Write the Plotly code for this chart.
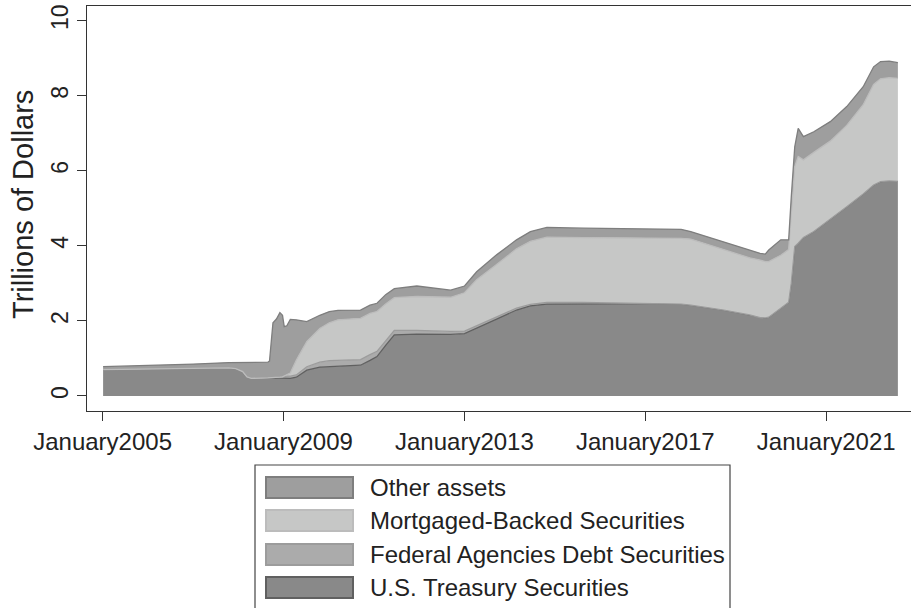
import plotly.graph_objects as go

# ---------------- data (trillions of dollars) ----------------
dates = [
    "2005-01-05", "2006-01-04", "2007-01-03", "2007-10-17", "2007-12-12",
    "2008-02-06", "2008-03-12", "2008-04-16", "2008-08-27", "2008-09-10",
    "2008-09-24", "2008-10-08", "2008-11-05", "2008-12-03", "2008-12-24",
    "2009-01-07", "2009-01-28", "2009-02-25", "2009-04-15", "2009-07-08",
    "2009-10-21", "2010-01-06", "2010-03-17", "2010-09-15", "2010-12-01",
    "2011-01-26", "2011-04-06", "2011-06-15", "2011-12-14", "2012-07-18",
    "2012-09-12", "2013-01-02", "2013-04-10", "2013-09-18", "2014-02-26",
    "2014-06-18", "2014-10-29", "2015-08-19", "2016-06-15", "2017-02-08",
    "2017-10-18", "2018-01-03", "2018-09-26", "2019-04-24", "2019-07-17",
    "2019-08-28", "2019-09-25", "2019-12-31", "2020-03-04", "2020-03-25",
    "2020-04-22", "2020-05-20", "2020-07-01", "2020-09-23", "2021-02-03",
    "2021-06-16", "2021-10-27", "2022-01-19", "2022-03-16", "2022-05-25",
    "2022-08-03",
]

treasury = [
    0.70, 0.72, 0.74, 0.75, 0.73,
    0.65, 0.51, 0.47, 0.48, 0.48,
    0.48, 0.48, 0.48, 0.48, 0.48,
    0.48, 0.48, 0.47, 0.50, 0.69,
    0.77, 0.78, 0.78, 0.82, 0.95,
    1.05, 1.35, 1.63, 1.65, 1.64,
    1.64, 1.66, 1.80, 2.05, 2.29,
    2.40, 2.45, 2.46, 2.46, 2.46,
    2.45, 2.42, 2.29, 2.16, 2.09,
    2.08, 2.10, 2.34, 2.50, 3.00,
    3.98, 4.07, 4.22, 4.38, 4.70,
    5.04, 5.38, 5.62, 5.71, 5.73,
    5.72,
]

agency = [
    0.00, 0.00, 0.00, 0.00, 0.00,
    0.00, 0.00, 0.00, 0.00, 0.00,
    0.01, 0.01, 0.02, 0.02, 0.03,
    0.04, 0.05, 0.06, 0.06, 0.09,
    0.13, 0.16, 0.17, 0.15, 0.15,
    0.14, 0.12, 0.12, 0.10, 0.09,
    0.08, 0.07, 0.07, 0.06, 0.05,
    0.04, 0.04, 0.03, 0.02, 0.01,
    0.00, 0.00, 0.00, 0.00, 0.00,
    0.00, 0.00, 0.00, 0.00, 0.00,
    0.00, 0.00, 0.00, 0.00, 0.00,
    0.00, 0.00, 0.00, 0.00, 0.00,
    0.00,
]

mbs = [
    0.00, 0.00, 0.00, 0.00, 0.00,
    0.00, 0.00, 0.00, 0.00, 0.00,
    0.00, 0.00, 0.00, 0.00, 0.00,
    0.01, 0.03, 0.08, 0.40, 0.67,
    0.90, 1.01, 1.08, 1.10, 1.10,
    1.06, 0.98, 0.87, 0.90, 0.89,
    0.91, 1.02, 1.23, 1.39, 1.58,
    1.68, 1.74, 1.73, 1.74, 1.75,
    1.75, 1.76, 1.61, 1.52, 1.53,
    1.50, 1.48, 1.41, 1.40, 1.75,
    2.13, 2.31, 2.07, 2.11, 2.09,
    2.17, 2.38, 2.68, 2.74, 2.75,
    2.74,
]

other = [
    0.08, 0.09, 0.11, 0.14, 0.16,
    0.24, 0.38, 0.42, 0.42, 0.45,
    1.01, 1.46, 1.55, 1.72, 1.64,
    1.32, 1.31, 1.43, 1.07, 0.53,
    0.35, 0.30, 0.25, 0.22, 0.22,
    0.22, 0.25, 0.24, 0.28, 0.22,
    0.19, 0.18, 0.21, 0.26, 0.24,
    0.26, 0.26, 0.25, 0.24, 0.23,
    0.24, 0.20, 0.21, 0.21, 0.18,
    0.20, 0.31, 0.41, 0.26, 0.55,
    0.53, 0.75, 0.62, 0.55, 0.52,
    0.50, 0.48, 0.47, 0.46, 0.44,
    0.42,
]

series_names = ["U.S. Treasury Securities", "Federal Agencies Debt Securities",
                "Mortgaged-Backed Securities", "Other assets"]
tick_dates = ["2005-01-01", "2009-01-01", "2013-01-01", "2017-01-01", "2021-01-01"]
tick_labels = ["January2005", "January2009", "January2013", "January2017", "January2021"]
y_ticks = [0, 2, 4, 6, 8, 10]

# ---------------- styling ----------------
fills = ["#898989", "#ababab", "#c6c7c6", "#9e9e9e"]
lines = ["#606060", "#9c9c9c", "#bcbcbc", "#7e7e7e"]
FONT = "Liberation Sans, Arial, sans-serif"

W, H = 912, 608
L, R, T, B = 87, 911, 6, 411  # plot area in pixels


def px(x):
    return (x - L) / (R - L)


def py(y):
    return (B - y) / (B - T)


fig = go.Figure()
for name, vals, fc, lc in zip(series_names, [treasury, agency, mbs, other], fills, lines):
    fig.add_trace(go.Scatter(
        x=dates, y=vals, name=name, mode="lines", stackgroup="one",
        line=dict(color=lc, width=1.3), fillcolor=fc, showlegend=False,
        hoverinfo="x+y+name",
    ))

# ---------------- manual legend ----------------
shapes = [dict(type="rect", xref="paper", yref="paper",
               x0=px(255), x1=px(730), y0=py(465), y1=py(640),
               line=dict(color="#444444", width=1.2), fillcolor="rgba(0,0,0,0)")]
annotations = []
legend_order = [3, 2, 1, 0]
row_tops = [476, 509, 543, 576]
for rt, idx in zip(row_tops, legend_order):
    shapes.append(dict(type="rect", xref="paper", yref="paper",
                       x0=px(266), x1=px(353), y0=py(rt + 1), y1=py(rt + 22),
                       line=dict(color=lines[idx], width=2), fillcolor=fills[idx]))
    annotations.append(dict(xref="paper", yref="paper", x=px(368), y=py(rt + 11.5),
                            xanchor="left", yanchor="middle", showarrow=False,
                            text=series_names[idx],
                            font=dict(family=FONT, size=24, color="#222222")))

annotations.append(dict(xref="paper", yref="paper", x=px(23), y=py(205),
                        xanchor="center", yanchor="middle", showarrow=False,
                        textangle=-90, text="Trillions of Dollars",
                        font=dict(family=FONT, size=29, color="#222222")))

fig.update_layout(
    width=W, height=H,
    margin=dict(l=L, r=W - R, t=T, b=H - B),
    paper_bgcolor="white", plot_bgcolor="white",
    shapes=shapes, annotations=annotations,
    showlegend=False,
    font=dict(family=FONT, color="#222222"),
)
fig.update_xaxes(
    type="date", range=["2004-08-28", "2022-11-17"],
    tickvals=tick_dates, ticktext=tick_labels,
    ticks="outside", ticklen=9, tickwidth=1.2, tickcolor="#333333",
    tickfont=dict(family=FONT, size=24, color="#222222"),
    showline=True, linecolor="#333333", linewidth=1.4, mirror=True,
    showgrid=False, zeroline=False,
)
fig.update_yaxes(
    range=[-0.4, 10.39], tickvals=y_ticks,
    ticks="outside", ticklen=9, tickwidth=1.2, tickcolor="#333333",
    tickangle=-90, tickfont=dict(family=FONT, size=23, color="#222222"),
    showline=True, linecolor="#333333", linewidth=1.4, mirror=False,
    showgrid=False, zeroline=False,
)

fig.write_html("out.html", config={"displayModeBar": False},
               post_script="document.body.style.margin='0';document.body.style.padding='0';")
